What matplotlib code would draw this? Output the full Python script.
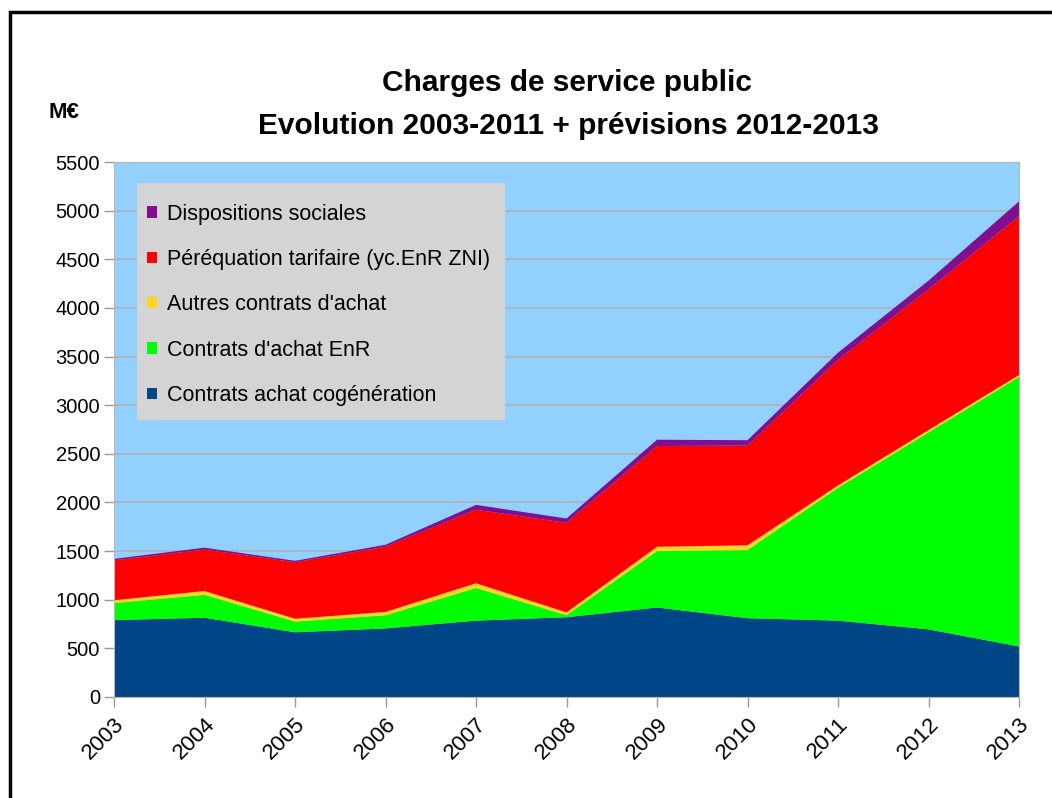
import matplotlib
matplotlib.use('Agg')
from matplotlib import pyplot as plt
from matplotlib.patches import Patch, Rectangle

plt.rcParams['font.family'] = ['Liberation Sans', 'DejaVu Sans']

# Charges de service public, M€ (stacked components)
years = [2003, 2004, 2005, 2006, 2007, 2008, 2009, 2010, 2011, 2012, 2013]
cogeneration = [790, 815, 665, 705, 785, 820, 920, 810, 785, 695, 520]
enr = [175, 235, 110, 135, 335, 20, 580, 700, 1365, 2025, 2770]
autres_contrats = [30, 40, 30, 35, 50, 30, 45, 50, 25, 25, 20]
perequation = [410, 425, 580, 670, 755, 920, 1035, 1025, 1290, 1445, 1635]
dispositions_sociales = [15, 20, 15, 20, 50, 45, 65, 55, 75, 90, 150]

labels = ['Contrats achat cogénération', "Contrats d'achat EnR", "Autres contrats d'achat",
          'Péréquation tarifaire (yc.EnR ZNI)', 'Dispositions sociales']
colors = ['#004586', '#00ff00', '#ffd320', '#ff0000', '#7f0f8f']

fig = plt.figure(figsize=(10.52, 7.98), dpi=100)
ax = fig.add_axes([114 / 1052, 1 - 697 / 798, 905 / 1052, 535 / 798])
ax.set_facecolor('#92d0ff')

ax.stackplot(years, cogeneration, enr, autres_contrats, perequation, dispositions_sociales,
             colors=colors, linewidth=0, zorder=2)

ax.set_xlim(2003, 2013)
ax.set_ylim(0, 5500)
ax.set_yticks(range(0, 5501, 500))
ax.set_xticks(years)
ax.set_xticklabels([str(y) for y in years], rotation=45, ha='right', rotation_mode='anchor')
ax.grid(axis='y', color='#b0b0b0', linewidth=1.2, zorder=1)
ax.set_axisbelow(True)
ax.tick_params(axis='both', labelsize=14.5, color='#9a9a9a', length=7, width=1, pad=3)
ax.tick_params(axis='x', labelsize=16, pad=5)
for side in ['top']:
    ax.spines[side].set_visible(False)
for side in ['left', 'bottom', 'right']:
    ax.spines[side].set_color('#b8b8b8')

# grey legend panel, drawn separately so its padding can be set freely
ax.add_patch(Rectangle((0.0254, 0.518), 0.4066, 0.443, transform=ax.transAxes,
                       facecolor='#d4d4d4', edgecolor='none', zorder=4))
handles = [Patch(facecolor=c, edgecolor='none') for c in colors][::-1]
leg = ax.legend(handles, labels[::-1], loc='upper left', bbox_to_anchor=(0.037, 0.922),
                fontsize=15.5, frameon=False,
                handlelength=0.45, handleheight=0.45, handletextpad=0.45,
                labelspacing=1.13, borderpad=0, borderaxespad=0)
leg.set_zorder(5)

fig.text(0.539, 1 - 83 / 798, 'Charges de service public', ha='center', va='center',
         fontsize=21.5, fontweight='bold')
fig.text(0.540, 1 - 126 / 798, 'Evolution 2003-2011 + prévisions 2012-2013', ha='center',
         va='center', fontsize=21.5, fontweight='bold')
fig.text(64 / 1052, 1 - 113 / 798, 'M€', ha='center', va='center', fontsize=16,
         fontweight='bold')

# black frame around the chart
fig.add_artist(Rectangle((10 / 1052, -0.1), 1.2, 1.1 - 12 / 798, transform=fig.transFigure,
                         fill=False, edgecolor='black', linewidth=2.5))

fig.savefig('out.png', dpi=100)
